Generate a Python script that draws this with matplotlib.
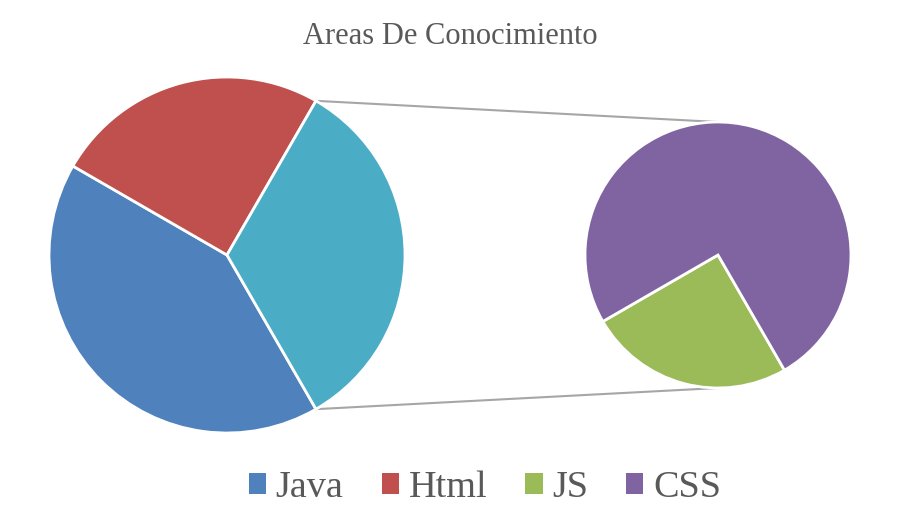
import matplotlib
matplotlib.use("Agg")
import matplotlib.pyplot as plt
from matplotlib.patches import Patch
import numpy as np

# Data
main_labels = ["Java", "Html", "Other"]
main_values = [5, 3, 4]
sub_labels = ["JS", "CSS"]
sub_values = [1, 3]
legend_labels = ["Java", "Html", "JS", "CSS"]

colors_main = ["#4F81BD", "#C0504D", "#4BACC6"]
colors_sub = ["#9BBB59", "#8064A2"]
legend_colors = ["#4F81BD", "#C0504D", "#9BBB59", "#8064A2"]

W, H = 900, 525
fig = plt.figure(figsize=(9, 5.25), dpi=100)
ax = fig.add_axes([0, 0, 1, 1])

c1 = (227, H - 255)
r1 = 178
c2 = (718, H - 255)
r2 = 133

other_angle = 360 * main_values[2] / sum(main_values)
start = -other_angle / 2

ax.pie(main_values, colors=colors_main, startangle=start, counterclock=False,
       center=c1, radius=r1, frame=True,
       wedgeprops=dict(edgecolor="white", linewidth=2))
ax.pie(sub_values, colors=colors_sub, startangle=start, counterclock=False,
       center=c2, radius=r2, frame=True,
       wedgeprops=dict(edgecolor="white", linewidth=2))
ax.set_xlim(0, W)
ax.set_ylim(0, H)
ax.set_aspect("equal")
ax.axis("off")

a = np.deg2rad(other_angle / 2)
p_top = (c1[0] + r1 * np.cos(a), c1[1] + r1 * np.sin(a))
p_bot = (c1[0] + r1 * np.cos(a), c1[1] - r1 * np.sin(a))
ax.plot([p_top[0], c2[0]], [p_top[1], c2[1] + r2], color="#A6A6A6", lw=1.5, zorder=0)
ax.plot([p_bot[0], c2[0]], [p_bot[1], c2[1] - r2], color="#A6A6A6", lw=1.5, zorder=0)

serif = ["Liberation Serif", "DejaVu Serif"]
fig.text(0.5, 1 - 36 / H, "Areas De Conocimiento", ha="center", va="center",
         fontsize=22, color="#595959", family=serif)

handles = [Patch(facecolor=c, edgecolor="none") for c in legend_colors]
fig.legend(handles, legend_labels, loc="center", bbox_to_anchor=(485 / W, 1 - 488 / H),
           ncol=4, frameon=False, prop=dict(family=serif, size=27.5),
           labelcolor="#595959", handlelength=0.45, handleheight=0.45,
           handletextpad=0.25, columnspacing=1.0, borderpad=0, borderaxespad=0)

fig.savefig("out.png", dpi=100)
